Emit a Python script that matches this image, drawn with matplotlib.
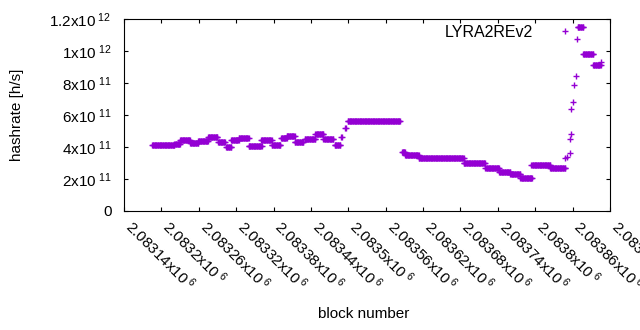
import numpy as np
import matplotlib
matplotlib.use("Agg")
import matplotlib.pyplot as plt

plt.rcParams['font.family'] = ['Liberation Sans', 'DejaVu Sans']
plt.rcParams['mathtext.fontset'] = 'custom'
plt.rcParams['mathtext.rm'] = 'Liberation Sans'
plt.rcParams['mathtext.it'] = 'Liberation Sans:italic'
plt.rcParams['mathtext.bf'] = 'Liberation Sans:bold'

# Step segments of hashrate (block start, block end, hashrate in h/s)
seg_start = [2083185, 2083221, 2083230, 2083246, 2083259, 2083275, 2083291, 2083304,
             2083312, 2083324, 2083340, 2083360, 2083377, 2083392, 2083401, 2083414,
             2083430, 2083447, 2083460, 2083478, 2083489, 2083495, 2083499, 2083586,
             2083591, 2083613, 2083685, 2083720, 2083742, 2083760, 2083776, 2083794,
             2083824, 2083868, 2083877, 2083893]
seg_end = [2083221, 2083230, 2083246, 2083259, 2083275, 2083290, 2083302, 2083312,
           2083324, 2083340, 2083361, 2083377, 2083391, 2083401, 2083414, 2083428,
           2083447, 2083460, 2083476, 2083487, 2083490, 2083496, 2083583, 2083591,
           2083613, 2083685, 2083719, 2083742, 2083760, 2083776, 2083795, 2083824,
           2083848, 2083877, 2083893, 2083905]
seg_value = [4.10e11, 4.19e11, 4.42e11, 4.23e11, 4.36e11, 4.63e11, 4.31e11, 4.00e11,
             4.42e11, 4.56e11, 4.04e11, 4.42e11, 4.14e11, 4.56e11, 4.69e11, 4.31e11,
             4.52e11, 4.83e11, 4.52e11, 4.10e11, 4.63e11, 5.19e11, 5.60e11, 3.66e11,
             3.50e11, 3.29e11, 3.02e11, 2.71e11, 2.46e11, 2.29e11, 2.08e11, 2.87e11,
             2.70e11, 1.148e12, 9.80e11, 9.10e11]

# Isolated points (ramp up)
extra_blocks = [2083847, 2083851, 2083855, 2083856, 2083857, 2083858, 2083860,
                2083862, 2083865, 2083867, 2083905]
extra_values = [3.33e11, 3.40e11, 3.65e11, 4.50e11, 4.81e11, 6.38e11, 6.80e11,
                7.88e11, 8.44e11, 1.073e12, 9.30e11]

series_label = "LYRA2REv2"
x_ticks = [2083140, 2083200, 2083260, 2083320, 2083380, 2083440, 2083500,
           2083560, 2083620, 2083680, 2083740, 2083800, 2083860, 2083920]
x_tick_labels = ["2.08314", "2.0832", "2.08326", "2.08332", "2.08338", "2.08344",
                 "2.0835", "2.08356", "2.08362", "2.08368", "2.08374", "2.0838",
                 "2.08386", "2.08392"]
y_ticks = [0, 2e11, 4e11, 6e11, 8e11, 1e12, 1.2e12]
y_tick_labels = ["0", "2x10$^{\\ 11}$", "4x10$^{\\ 11}$", "6x10$^{\\ 11}$",
                 "8x10$^{\\ 11}$", "1x10$^{\\ 12}$", "1.2x10$^{\\ 12}$"]

xs, ys = [], []
for s, e, v in zip(seg_start, seg_end, seg_value):
    b = np.arange(s, e + 1)
    xs.append(b)
    ys.append(np.full(len(b), v))
xs.append(np.array(extra_blocks))
ys.append(np.array(extra_values))
x = np.concatenate(xs)
y = np.concatenate(ys)

color = '#9400D3'
fig = plt.figure(figsize=(6.4, 3.3), dpi=100)
ax = fig.add_axes([124/640, 1 - 211/330, (610-124)/640, (211-19)/330])
ax.plot(x, y, linestyle='none', marker='+', markersize=4.6, markeredgewidth=1.0,
        color=color, label=series_label)

ax.set_xlim(x_ticks[0], x_ticks[-1])
ax.set_ylim(y_ticks[0], y_ticks[-1])
ax.set_xticks(x_ticks)
ax.set_xticklabels([l + "x10$^{\\ 6}$" for l in x_tick_labels], rotation=-45,
                   ha='left', va='baseline', rotation_mode='anchor', fontsize=11)
ax.set_yticks(y_ticks)
ax.set_yticklabels(y_tick_labels, fontsize=11)
ax.tick_params(direction='in', top=True, right=True, length=3, width=0.8, color='black')
ax.tick_params(axis='y', pad=9)
ax.tick_params(axis='x', pad=12.5)
for sp in ax.spines.values():
    sp.set_linewidth(0.8)

ax.set_ylabel("hashrate [h/s]", fontsize=11)
ax.yaxis.set_label_coords((24-124)/486, 0.5)
ax.set_xlabel("block number", fontsize=11)
ax.xaxis.set_label_coords((364-124)/486, -(307-211)/192)

ax.legend(loc='upper right', frameon=False, markerfirst=False, fontsize=11.5,
          handlelength=2.6, handletextpad=0.7, borderaxespad=0.1,
          bbox_to_anchor=(1 - 16/486, 1.01))

fig.savefig("out.png", dpi=100)
